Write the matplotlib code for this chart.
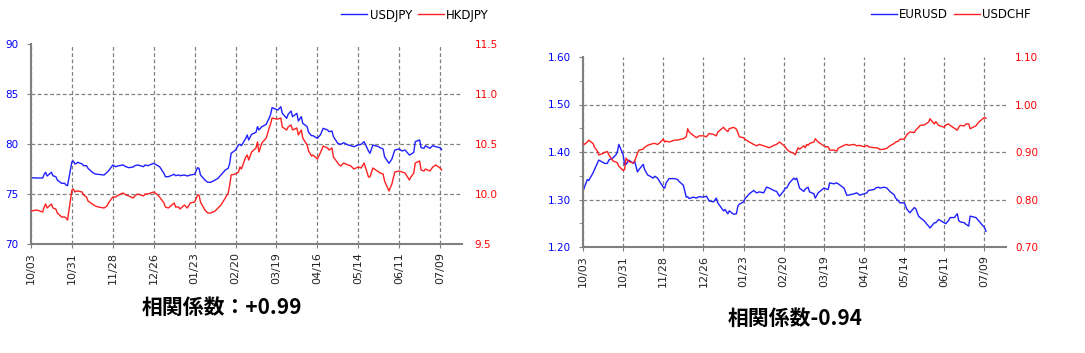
import pandas as pd
import matplotlib
matplotlib.use('Agg')
import matplotlib.pyplot as plt
import matplotlib.dates as mdates
from matplotlib.ticker import MultipleLocator

# ---- left pair: USDJPY / HKDJPY ----
jpy_dates = [
    '2011-10-03', '2011-10-07', '2011-10-11', '2011-10-12', '2011-10-13', '2011-10-14',
    '2011-10-17', '2011-10-18', '2011-10-20', '2011-10-21', '2011-10-24', '2011-10-26',
    '2011-10-27', '2011-10-28', '2011-10-31', '2011-11-01', '2011-11-02', '2011-11-03',
    '2011-11-04', '2011-11-07', '2011-11-08', '2011-11-10', '2011-11-11', '2011-11-14',
    '2011-11-16', '2011-11-18', '2011-11-22', '2011-11-24', '2011-11-25', '2011-11-28',
    '2011-11-30', '2011-12-02', '2011-12-05', '2011-12-07', '2011-12-09', '2011-12-12',
    '2011-12-13', '2011-12-15', '2011-12-19', '2011-12-20', '2011-12-22', '2011-12-26',
    '2011-12-28', '2011-12-30', '2012-01-02', '2012-01-03', '2012-01-05', '2012-01-09',
    '2012-01-10', '2012-01-12', '2012-01-13', '2012-01-16', '2012-01-18', '2012-01-20',
    '2012-01-23', '2012-01-25', '2012-01-26', '2012-01-27', '2012-01-30', '2012-02-01',
    '2012-02-03', '2012-02-06', '2012-02-08', '2012-02-10', '2012-02-13', '2012-02-15',
    '2012-02-16', '2012-02-17', '2012-02-20', '2012-02-22', '2012-02-23', '2012-02-24',
    '2012-02-27', '2012-02-28', '2012-02-29', '2012-03-02', '2012-03-05', '2012-03-06',
    '2012-03-07', '2012-03-09', '2012-03-12', '2012-03-13', '2012-03-14', '2012-03-15',
    '2012-03-16', '2012-03-19', '2012-03-20', '2012-03-22', '2012-03-23', '2012-03-26',
    '2012-03-27', '2012-03-29', '2012-03-30', '2012-04-02', '2012-04-03', '2012-04-05',
    '2012-04-06', '2012-04-09', '2012-04-10', '2012-04-12', '2012-04-13', '2012-04-16',
    '2012-04-18', '2012-04-20', '2012-04-23', '2012-04-24', '2012-04-26', '2012-04-27',
    '2012-04-30', '2012-05-01', '2012-05-02', '2012-05-04', '2012-05-07', '2012-05-09',
    '2012-05-11', '2012-05-14', '2012-05-16', '2012-05-18', '2012-05-21', '2012-05-22',
    '2012-05-24', '2012-05-28', '2012-05-29', '2012-05-31', '2012-06-01', '2012-06-04',
    '2012-06-06', '2012-06-08', '2012-06-11', '2012-06-13', '2012-06-15', '2012-06-18',
    '2012-06-19', '2012-06-21', '2012-06-22', '2012-06-25', '2012-06-26', '2012-06-28',
    '2012-06-29', '2012-07-02', '2012-07-04', '2012-07-06', '2012-07-09', '2012-07-10',
]
usdjpy = [
    76.63, 76.60, 76.60, 76.97, 77.17, 76.80, 77.17, 76.83, 76.73, 76.40, 76.07, 76.07,
    75.90, 75.83, 78.23, 78.30, 78.00, 78.05, 78.17, 78.00, 77.83, 77.83, 77.57, 77.17,
    77.00, 76.97, 76.90, 77.17, 77.30, 77.90, 77.73, 77.83, 77.90, 77.73, 77.63, 77.70,
    77.83, 77.90, 77.73, 77.90, 77.83, 78.07, 77.90, 77.73, 77.07, 76.73, 76.73, 76.97,
    76.83, 76.90, 76.83, 76.90, 76.80, 76.90, 76.97, 77.63, 77.57, 76.90, 76.40, 76.17,
    76.17, 76.40, 76.57, 76.90, 77.40, 77.57, 78.07, 79.07, 79.40, 79.90, 79.97, 79.83,
    80.57, 80.90, 80.40, 80.97, 81.17, 81.73, 81.40, 81.73, 81.97, 82.30, 82.57, 82.97,
    83.63, 83.45, 83.40, 83.73, 83.07, 82.57, 82.97, 83.30, 82.73, 83.07, 82.30, 82.73,
    82.07, 81.73, 81.17, 80.83, 80.83, 80.57, 80.90, 81.57, 81.40, 81.23, 81.30, 80.73,
    80.07, 80.00, 79.97, 80.13, 79.90, 79.83, 79.73, 79.90, 79.97, 80.23, 79.30, 79.07,
    79.90, 79.73, 79.63, 79.50, 78.73, 78.07, 78.50, 79.40, 79.50, 79.30, 79.40, 78.90,
    78.97, 79.17, 80.23, 80.40, 79.63, 79.57, 79.83, 79.57, 79.83, 79.73, 79.63, 79.45,
]
hkdjpy = [
    9.83, 9.84, 9.82, 9.87, 9.90, 9.86, 9.90, 9.86, 9.85, 9.81, 9.77, 9.77,
    9.76, 9.74, 10.04, 10.05, 10.02, 10.03, 10.03, 10.02, 9.99, 9.97, 9.93, 9.90,
    9.88, 9.87, 9.86, 9.88, 9.91, 9.97, 9.97, 9.99, 10.01, 9.99, 9.98, 9.96,
    9.98, 10.00, 9.98, 10.00, 10.00, 10.02, 10.00, 9.97, 9.91, 9.87, 9.86, 9.91,
    9.87, 9.87, 9.85, 9.89, 9.86, 9.91, 9.92, 9.99, 9.99, 9.92, 9.84, 9.81,
    9.81, 9.83, 9.86, 9.89, 9.96, 10.01, 10.09, 10.19, 10.20, 10.22, 10.27, 10.25,
    10.37, 10.39, 10.34, 10.42, 10.46, 10.52, 10.42, 10.51, 10.56, 10.61, 10.66, 10.70,
    10.76, 10.75, 10.75, 10.76, 10.67, 10.64, 10.67, 10.69, 10.64, 10.66, 10.59, 10.64,
    10.56, 10.49, 10.43, 10.38, 10.39, 10.35, 10.41, 10.48, 10.46, 10.44, 10.46, 10.37,
    10.31, 10.29, 10.28, 10.31, 10.29, 10.28, 10.25, 10.27, 10.26, 10.31, 10.17, 10.17,
    10.26, 10.22, 10.21, 10.20, 10.13, 10.03, 10.10, 10.22, 10.23, 10.22, 10.21, 10.14,
    10.17, 10.21, 10.31, 10.33, 10.24, 10.23, 10.25, 10.23, 10.27, 10.29, 10.26, 10.24,
]

# ---- right pair: EURUSD / USDCHF ----
usd_dates = [
    '2011-10-03', '2011-10-04', '2011-10-06', '2011-10-07', '2011-10-10', '2011-10-11',
    '2011-10-13', '2011-10-14', '2011-10-17', '2011-10-18', '2011-10-20', '2011-10-21',
    '2011-10-24', '2011-10-26', '2011-10-27', '2011-10-28', '2011-10-31', '2011-11-01',
    '2011-11-02', '2011-11-03', '2011-11-04', '2011-11-07', '2011-11-08', '2011-11-10',
    '2011-11-11', '2011-11-14', '2011-11-15', '2011-11-17', '2011-11-21', '2011-11-22',
    '2011-11-24', '2011-11-25', '2011-11-28', '2011-11-29', '2011-11-30', '2011-12-02',
    '2011-12-06', '2011-12-08', '2011-12-09', '2011-12-12', '2011-12-14', '2011-12-15',
    '2011-12-16', '2011-12-19', '2011-12-21', '2011-12-23', '2011-12-26', '2011-12-28',
    '2011-12-30', '2012-01-02', '2012-01-04', '2012-01-05', '2012-01-09', '2012-01-10',
    '2012-01-12', '2012-01-13', '2012-01-16', '2012-01-18', '2012-01-19', '2012-01-20',
    '2012-01-23', '2012-01-24', '2012-01-25', '2012-01-27', '2012-01-30', '2012-02-01',
    '2012-02-03', '2012-02-06', '2012-02-08', '2012-02-10', '2012-02-13', '2012-02-15',
    '2012-02-17', '2012-02-20', '2012-02-21', '2012-02-22', '2012-02-24', '2012-02-27',
    '2012-02-28', '2012-02-29', '2012-03-01', '2012-03-02', '2012-03-05', '2012-03-06',
    '2012-03-07', '2012-03-08', '2012-03-09', '2012-03-12', '2012-03-13', '2012-03-15',
    '2012-03-19', '2012-03-20', '2012-03-22', '2012-03-23', '2012-03-26', '2012-03-28',
    '2012-03-29', '2012-04-02', '2012-04-04', '2012-04-05', '2012-04-09', '2012-04-11',
    '2012-04-13', '2012-04-16', '2012-04-18', '2012-04-19', '2012-04-23', '2012-04-24',
    '2012-04-26', '2012-04-27', '2012-04-30', '2012-05-02', '2012-05-04', '2012-05-07',
    '2012-05-08', '2012-05-10', '2012-05-11', '2012-05-14', '2012-05-16', '2012-05-18',
    '2012-05-21', '2012-05-22', '2012-05-24', '2012-05-25', '2012-05-28', '2012-05-29',
    '2012-05-31', '2012-06-01', '2012-06-04', '2012-06-05', '2012-06-07', '2012-06-11',
    '2012-06-12', '2012-06-14', '2012-06-15', '2012-06-18', '2012-06-20', '2012-06-21',
    '2012-06-22', '2012-06-25', '2012-06-26', '2012-06-28', '2012-06-29', '2012-07-03',
    '2012-07-05', '2012-07-09', '2012-07-10',
]
eurusd = [
    1.317, 1.326, 1.342, 1.340, 1.356, 1.363, 1.376, 1.383, 1.378, 1.376, 1.376, 1.383,
    1.388, 1.394, 1.401, 1.416, 1.394, 1.373, 1.374, 1.378, 1.383, 1.376, 1.381, 1.358,
    1.363, 1.374, 1.363, 1.352, 1.345, 1.349, 1.345, 1.340, 1.326, 1.324, 1.335, 1.344,
    1.344, 1.342, 1.338, 1.330, 1.305, 1.306, 1.302, 1.305, 1.303, 1.306, 1.305, 1.307,
    1.297, 1.295, 1.303, 1.293, 1.276, 1.279, 1.270, 1.276, 1.269, 1.270, 1.286, 1.290,
    1.295, 1.302, 1.305, 1.312, 1.319, 1.314, 1.316, 1.314, 1.326, 1.324, 1.319, 1.317,
    1.307, 1.318, 1.324, 1.324, 1.335, 1.345, 1.342, 1.345, 1.335, 1.324, 1.317, 1.322,
    1.324, 1.326, 1.316, 1.312, 1.303, 1.314, 1.324, 1.323, 1.321, 1.335, 1.333, 1.335,
    1.333, 1.324, 1.309, 1.309, 1.312, 1.314, 1.309, 1.312, 1.314, 1.319, 1.321, 1.324,
    1.326, 1.324, 1.326, 1.324, 1.317, 1.310, 1.303, 1.297, 1.293, 1.293, 1.279, 1.272,
    1.283, 1.281, 1.265, 1.262, 1.255, 1.251, 1.244, 1.240, 1.251, 1.251, 1.258, 1.251,
    1.249, 1.256, 1.262, 1.262, 1.270, 1.256, 1.253, 1.251, 1.248, 1.244, 1.265, 1.262,
    1.255, 1.241, 1.233,
]
usdchf = [
    0.918, 0.916, 0.921, 0.925, 0.918, 0.910, 0.902, 0.894, 0.897, 0.899, 0.901, 0.894,
    0.881, 0.879, 0.877, 0.870, 0.861, 0.863, 0.887, 0.883, 0.880, 0.877, 0.881, 0.897,
    0.904, 0.906, 0.910, 0.914, 0.918, 0.918, 0.916, 0.918, 0.927, 0.921, 0.923, 0.921,
    0.925, 0.925, 0.926, 0.928, 0.932, 0.949, 0.942, 0.935, 0.930, 0.934, 0.934, 0.932,
    0.939, 0.937, 0.934, 0.942, 0.952, 0.948, 0.943, 0.949, 0.952, 0.948, 0.941, 0.932,
    0.930, 0.927, 0.925, 0.921, 0.916, 0.913, 0.916, 0.913, 0.911, 0.909, 0.914, 0.916,
    0.921, 0.914, 0.911, 0.906, 0.901, 0.897, 0.894, 0.902, 0.909, 0.906, 0.913, 0.909,
    0.916, 0.914, 0.918, 0.921, 0.928, 0.921, 0.913, 0.911, 0.911, 0.904, 0.904, 0.902,
    0.908, 0.914, 0.916, 0.914, 0.916, 0.913, 0.914, 0.911, 0.914, 0.911, 0.909, 0.909,
    0.908, 0.905, 0.906, 0.908, 0.913, 0.918, 0.921, 0.923, 0.927, 0.927, 0.937, 0.942,
    0.941, 0.946, 0.952, 0.956, 0.957, 0.959, 0.963, 0.970, 0.959, 0.964, 0.956, 0.952,
    0.957, 0.959, 0.956, 0.950, 0.946, 0.952, 0.956, 0.955, 0.959, 0.959, 0.949, 0.955,
    0.963, 0.973, 0.971,
]

tick_dates = pd.date_range('2011-10-03', periods=11, freq='28D')

BLUE = '#2020ff'
RED = '#ff2020'
GRAY = '#808080'

fig = plt.figure(figsize=(10.85, 3.53), dpi=100)
W, H = 1085.0, 353.0


def draw_pair(box, dates, lvals, rvals, names, lticks, rticks, lfmt, rfmt,
              minor, legend_at, title, title_at, rpad):
    x0, y0, x1, y1 = box
    ax = fig.add_axes([x0 / W, 1 - y1 / H, (x1 - x0) / W, (y1 - y0) / H])
    ax2 = ax.twinx()
    d = pd.to_datetime(dates)

    l1, = ax.plot(d, lvals, color=BLUE, lw=1.0)
    l2, = ax2.plot(d, rvals, color=RED, lw=1.0)

    ax.set_xlim(pd.Timestamp('2011-10-03'), pd.Timestamp('2012-07-24'))
    ax.set_ylim(lticks[0], lticks[-1])
    ax2.set_ylim(rticks[0], rticks[-1])

    ax.set_xticks(tick_dates)
    ax.xaxis.set_major_formatter(mdates.DateFormatter('%m/%d'))
    ax.tick_params(axis='x', rotation=90, labelsize=8, colors=GRAY,
                   labelcolor='#222222', length=3, pad=3)

    ax.set_yticks(lticks)
    ax.set_yticklabels([lfmt % v for v in lticks])
    if minor:
        ax.yaxis.set_minor_locator(MultipleLocator(minor))
    ax.tick_params(axis='y', which='both', labelsize=7.5, colors=GRAY,
                   labelcolor='blue', length=3, pad=6)
    ax2.set_yticks(rticks)
    ax2.set_yticklabels([rfmt % v for v in rticks])
    ax2.tick_params(axis='y', labelsize=7.5, labelcolor='red', length=0, pad=rpad)

    dash = (0, (3, 2))
    ax.grid(axis='x', color=GRAY, linestyle=dash, linewidth=0.9)
    for v in lticks[1:-1]:
        ax.axhline(v, color=GRAY, linestyle=dash, linewidth=0.9, zorder=0.5)

    for s in ['top', 'right']:
        ax.spines[s].set_visible(False)
    for s in ax2.spines.values():
        s.set_visible(False)
    for s in ['left', 'bottom']:
        ax.spines[s].set_color(GRAY)
        ax.spines[s].set_linewidth(1.5)

    fig.legend([l1, l2], names, loc='center',
               bbox_to_anchor=(legend_at[0] / W, 1 - legend_at[1] / H),
               ncol=2, frameon=False, fontsize=8.5, handlelength=2.2,
               handletextpad=0.2, columnspacing=0.5)

    fig.text(title_at[0] / W, 1 - title_at[1] / H, title, ha='center', va='center',
             fontsize=15, fontweight='bold', family=['Noto Sans CJK JP', 'DejaVu Sans'])


draw_pair((31, 44, 462, 244), jpy_dates, usdjpy, hkdjpy, ['USDJPY', 'HKDJPY'],
          [70, 75, 80, 85, 90], [9.5, 10.0, 10.5, 11.0, 11.5], '%d', '%.1f',
          None, (415, 15), '相関係数：+0.99', (222, 307), 9)

draw_pair((583, 57, 1006, 247), usd_dates, eurusd, usdchf, ['EURUSD', 'USDCHF'],
          [1.2, 1.3, 1.4, 1.5, 1.6], [0.7, 0.8, 0.9, 1.0, 1.1], '%.2f', '%.2f',
          0.05, (951, 15), '相関係数-0.94', (795, 318), 6.5)

fig.savefig('out.png', dpi=100)
